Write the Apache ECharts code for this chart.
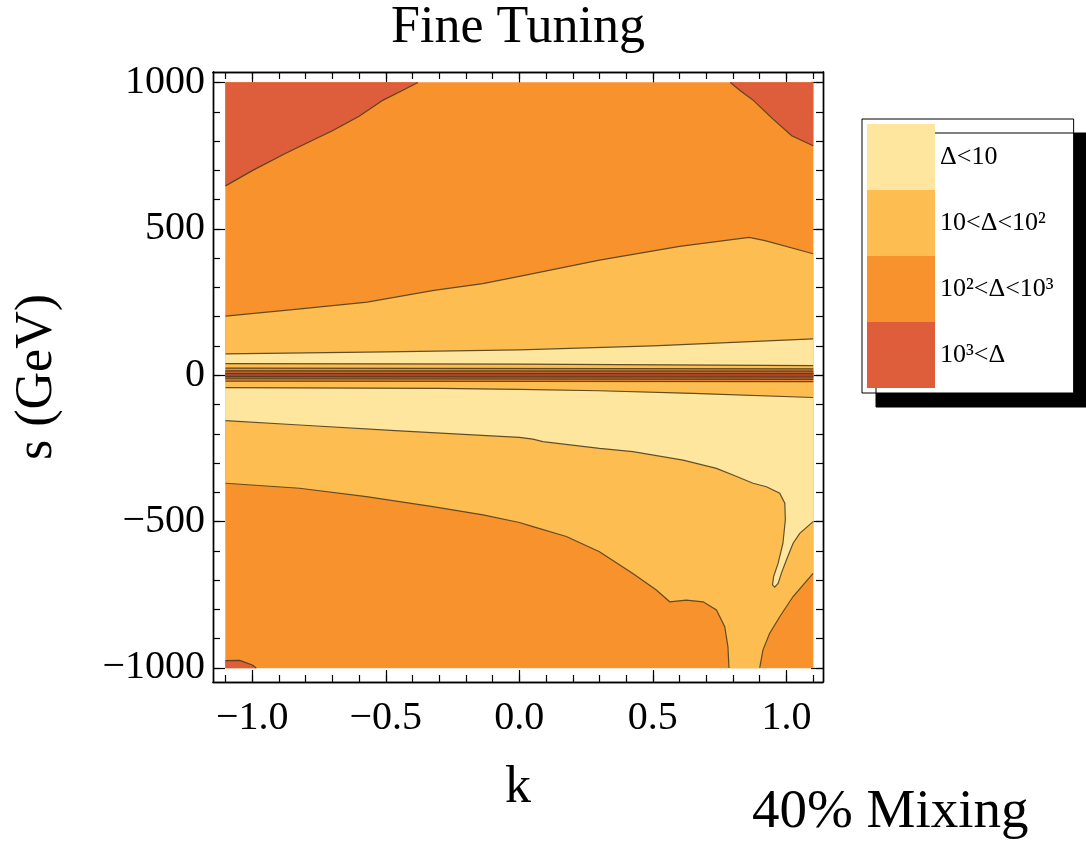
<!DOCTYPE html>
<html>
<head>
<meta charset="UTF-8">
<title>Fine Tuning</title>
<script src="https://cdn.jsdelivr.net/npm/echarts@6/dist/echarts.min.js"></script>
<style>html,body{margin:0;background:#fff}</style>
</head>
<body>
<div id="chart" style="width:1086px;height:841px"></div>
<script>
// plot domain
var kRange = [-1.1, 1.1];
var sRange = [-1000, 1000];

// ticks
var kTicks = [-1, -0.5, 0, 0.5, 1];
var kMinorTicks = [-1.1, -1.0, -0.9, -0.8, -0.7, -0.6, -0.5, -0.4, -0.3, -0.2, -0.1, 0,
                   0.1, 0.2, 0.3, 0.4, 0.5, 0.6, 0.7, 0.8, 0.9, 1.0, 1.1];
var sTicks = [-1000, -500, 0, 500, 1000];
var sMinorTicks = [-1000, -900, -800, -700, -600, -500, -400, -300, -200, -100, 0,
                   100, 200, 300, 400, 500, 600, 700, 800, 900, 1000];

// levels
var levelNames = ['Δ<10', '10<Δ<10²', '10²<Δ<10³', '10³<Δ'];
var levelColors = ['#FEE69E', '#FDBD50', '#F8922C', '#DE5D3A'];
// thin band around s = 0 (outer -> inner)
var bandColors = ['#FDBD50', '#EC8C2C', '#B8662C', '#A9442B'];

// contour curves, [k, s]
var redTopLeft = [[-1.1, 647], [-1.0, 699], [-0.88, 756], [-0.78, 800], [-0.7, 835], [-0.6, 885],
                  [-0.51, 940], [-0.44, 972], [-0.38, 1000]];
var redTopRight = [[0.79, 1000], [0.83, 970], [0.875, 940], [0.95, 875], [1.02, 818], [1.1, 784]];
var redBottomLeft = [[-1.1, -975], [-1.047, -974], [-1.0, -990], [-0.985, -1000]];
var curveA = [[-1.1, 202], [-0.82, 227], [-0.57, 250], [-0.32, 290], [-0.137, 313], [0, 338],
              [0.3, 393], [0.6, 440], [0.86, 471], [0.92, 460], [1.1, 415]];
var curveB = [[-1.1, 73], [-0.5, 80], [0, 87], [0.5, 100], [1.1, 124]];
var curveC1 = [[-1.1, 40], [0, 38], [1.1, 33]];
var curveC2 = [[-1.1, 24], [1.1, 22]];
var curveC3 = [[-1.1, 15], [1.1, 14]];
var curveC4 = [[-1.1, 6], [1.1, 6]];
var curveC5 = [[-1.1, -5], [1.1, -6]];
var curveC6 = [[-1.1, -12], [1.1, -14]];
var curveC7 = [[-1.1, -20], [1.1, -22]];
var curveC8 = [[-1.1, -42], [-0.3, -45], [0, -48], [0.3, -53], [0.65, -62], [1.1, -76]];
var curveD = [[-1.1, -155], [-0.823, -170], [-0.448, -190], [-0.174, -204], [0, -212], [0.051, -218],
              [0.088, -227], [0.3, -250], [0.425, -261], [0.613, -290], [0.738, -318], [0.8, -341],
              [0.875, -369], [0.925, -381], [0.975, -403], [0.994, -437], [0.996, -494], [0.987, -574],
              [0.969, -642], [0.952, -688], [0.948, -716], [0.956, -724], [0.969, -711], [0.981, -677],
              [1.0, -631], [1.025, -574], [1.05, -540], [1.1, -500]];
var curveE = [[-1.1, -369], [-0.823, -386], [-0.573, -415], [-0.324, -449], [-0.136, -477], [0, -503],
              [0.051, -517], [0.176, -551], [0.3, -603], [0.425, -677], [0.513, -734], [0.563, -774],
              [0.625, -768], [0.688, -774], [0.738, -802], [0.769, -859], [0.781, -927], [0.785, -1000]];
var curveF = [[0.9, -1000], [0.912, -939], [0.937, -882], [0.975, -825], [1.025, -756], [1.1, -677]];

function rev(a) { return a.slice().reverse(); }

var domainPoly = [[kRange[0], sRange[0]], [kRange[1], sRange[0]], [kRange[1], sRange[1]], [kRange[0], sRange[1]]];
var midPoly = curveA.concat(rev(curveF), rev(curveE));
var lightPoly = curveB.concat(rev(curveD));
var bandPolys = [
  curveC1.concat(rev(curveC8)),
  curveC2.concat(rev(curveC7)),
  curveC3.concat(rev(curveC6)),
  curveC4.concat(rev(curveC5))
];
var redPolys = [
  redTopLeft.concat([[kRange[0], sRange[1]]]),
  redTopRight.concat([[kRange[1], sRange[1]]]),
  redBottomLeft.concat([[kRange[0], sRange[0]]])
];
var contourLines = [redTopLeft, redTopRight, redBottomLeft, curveA, curveB, curveC1, curveC2, curveC3,
                    curveC4, curveC5, curveC6, curveC7, curveC8, curveD, curveE, curveF];

var serif = 'Liberation Serif';

function fillSeries(name, color, polys) {
  return {
    name: name,
    type: 'custom',
    itemStyle: { color: color },
    silent: true,
    data: polys.map(function (p) { return p[0]; }),
    renderItem: function (params, api) {
      return {
        type: 'polygon',
        shape: { points: polys[params.dataIndex].map(function (p) { return api.coord(p); }) },
        style: { fill: color, stroke: color, lineWidth: 0.5 }
      };
    }
  };
}

var series = [
  fillSeries(levelNames[2], levelColors[2], [domainPoly]),
  fillSeries(levelNames[1], levelColors[1], [midPoly]),
  fillSeries(levelNames[0], levelColors[0], [lightPoly])
];
bandPolys.forEach(function (p, i) { series.push(fillSeries('band' + i, bandColors[i], [p])); });
series.push(fillSeries(levelNames[3], levelColors[3], redPolys));
series.push({
  name: 'contours',
  type: 'custom',
  silent: true,
  data: contourLines.map(function (c) { return c[0]; }),
  renderItem: function (params, api) {
    return {
      type: 'polyline',
      shape: { points: contourLines[params.dataIndex].map(function (p) { return api.coord(p); }) },
      style: { fill: null, stroke: 'rgba(80,62,30,0.9)', lineWidth: 1.2 }
    };
  }
});

function kLabel(v) { return (v < 0 ? '−' : '') + Math.abs(v).toFixed(1); }
function sLabel(v) { return (v < 0 ? '−' : '') + Math.abs(v); }

var frameLine = { show: true, onZero: false, lineStyle: { color: '#000', width: 1.4 } };
var labelFont = { fontFamily: serif, fontSize: 40, color: '#000' };

function xAxisDef(pos, ticks, len, showLabel) {
  return {
    type: 'value', position: pos, min: -1.147, max: 1.137,
    axisLine: frameLine,
    axisTick: { show: true, inside: true, length: len, customValues: ticks, lineStyle: { color: '#000', width: 1.2 } },
    axisLabel: showLabel ? Object.assign({ customValues: kTicks, margin: 16, formatter: kLabel }, labelFont) : { show: false },
    splitLine: { show: false }
  };
}
function yAxisDef(pos, ticks, len, showLabel) {
  return {
    type: 'value', position: pos, min: -1048, max: 1036,
    axisLine: frameLine,
    axisTick: { show: true, inside: true, length: len, customValues: ticks, lineStyle: { color: '#000', width: 1.2 } },
    axisLabel: showLabel ? Object.assign({ customValues: sTicks, margin: 8, formatter: sLabel }, labelFont) : { show: false },
    splitLine: { show: false }
  };
}

var xAxes = [xAxisDef('bottom', kTicks, 12, true), xAxisDef('top', kTicks, 12, false),
             xAxisDef('bottom', kMinorTicks, 7, false), xAxisDef('top', kMinorTicks, 7, false)];
xAxes[0].name = 'k';
xAxes[0].nameLocation = 'middle';
xAxes[0].nameGap = 80;
xAxes[0].nameTextStyle = { fontFamily: serif, fontSize: 52, color: '#000' };

var yAxes = [yAxisDef('left', sTicks, 12, true), yAxisDef('right', sTicks, 12, false),
             yAxisDef('left', sMinorTicks, 7, false), yAxisDef('right', sMinorTicks, 7, false)];
yAxes[0].name = 's (GeV)';
yAxes[0].nameLocation = 'middle';
yAxes[0].nameGap = 150;
yAxes[0].nameTextStyle = { fontFamily: serif, fontSize: 52, color: '#000' };

var chart = echarts.init(document.getElementById('chart'));
chart.setOption({
  animation: false,
  backgroundColor: '#fff',
  title: [
    { text: 'Fine Tuning', left: 518, top: 2, textAlign: 'center', padding: 0,
      textStyle: { fontFamily: serif, fontSize: 52, fontWeight: 'normal', color: '#000' } },
    { text: '40% Mixing', left: 752, top: 785, padding: 0,
      textStyle: { fontFamily: serif, fontSize: 55, fontWeight: 'normal', color: '#000' } }
  ],
  legend: {
    data: levelNames,
    orient: 'vertical',
    left: 862, top: 119,
    itemWidth: 68, itemHeight: 66, itemGap: 0,
    padding: [5, 20, 5, 5],
    icon: 'rect',
    selectedMode: false,
    backgroundColor: '#fff',
    borderColor: '#000', borderWidth: 1,
    shadowColor: '#000', shadowBlur: 0, shadowOffsetX: 14, shadowOffsetY: 14,
    textStyle: { fontFamily: serif, fontSize: 26, color: '#000' }
  },
  grid: { left: 213, right: 263, top: 72, bottom: 159, containLabel: false, outerBoundsMode: 'none' },
  xAxis: xAxes,
  yAxis: yAxes,
  series: series
});
</script>
</body>
</html>
